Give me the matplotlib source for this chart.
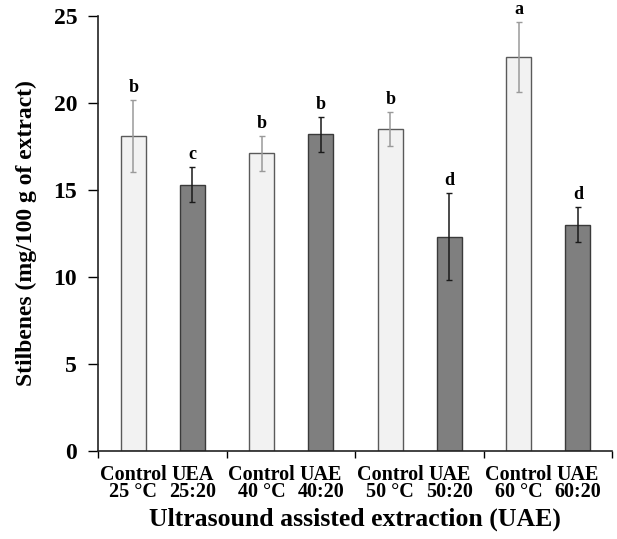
import matplotlib
matplotlib.use("Agg")
import matplotlib.pyplot as plt
import numpy as np

plt.rcParams['font.family'] = ['Liberation Serif', 'DejaVu Serif']
plt.rcParams['font.weight'] = 'bold'

labels = ["Control\n25 \u00b0C", "UEA\n25:20", "Control\n40 \u00b0C", "UAE\n40:20",
          "Control\n50 \u00b0C", "UAE\n50:20", "Control\n60 \u00b0C", "UAE\n60:20"]
values = [18.1, 15.3, 17.1, 18.2, 18.5, 12.3, 22.65, 13.0]
errors = [2.05, 1.0, 1.0, 1.0, 1.0, 2.5, 2.0, 1.0]
letters = ["b", "c", "b", "b", "b", "d", "a", "d"]
kind = ["control", "uae", "control", "uae", "control", "uae", "control", "uae"]

n_groups = 4
offsets = {"control": 0.275, "uae": 0.735}
positions = [i // 2 + offsets[k] for i, k in enumerate(kind)]

fig = plt.figure(figsize=(6.17, 5.39), dpi=100)
ax = fig.add_axes([98 / 617, 1 - 451 / 539, (612 - 98) / 617, (451 - 16) / 539])

for x, v, e, k, l in zip(positions, values, errors, kind, letters):
    if k == "control":
        fc, ec, errc = "#f2f2f2", "#5a5a5a", "#9a9a9a"
    else:
        fc, ec, errc = "#7f7f7f", "#3a3a3a", "#1a1a1a"
    ax.bar(x, v, width=0.195, color=fc, edgecolor=ec, linewidth=1.0, zorder=2)
    ax.errorbar(x, v, yerr=e, fmt="none", ecolor=errc, elinewidth=1.1,
                capsize=2, capthick=1.0, zorder=3)
    ax.annotate(l, (x, v + e), xytext=(0, 3), textcoords="offset points",
                ha="center", va="bottom", fontsize=13, fontweight="bold")

ax.set_xlim(0, n_groups)
ax.set_ylim(0, 25)
ax.set_yticks([0, 5, 10, 15, 20, 25])
ax.tick_params(axis="y", direction="out", length=7, width=1, labelsize=17, pad=8)

ax.set_xticks(np.arange(n_groups + 1))
ax.set_xticklabels([])
ax.tick_params(axis="x", which="major", direction="out", length=5, width=1)
ax.set_xticks(positions, minor=True)
ax.set_xticklabels(labels, minor=True, fontsize=14.5, fontweight="bold", linespacing=0.82)
ax.tick_params(axis="x", which="minor", length=0, pad=10)

for s in ["top", "right"]:
    ax.spines[s].set_visible(False)
for s in ["left", "bottom"]:
    ax.spines[s].set_linewidth(1.2)
    ax.spines[s].set_color("#222222")

ax.set_ylabel("Stilbenes (mg/100 g of extract)", fontsize=17, fontweight="bold", labelpad=12)
ax.set_xlabel("Ultrasound assisted extraction (UAE)", fontsize=18.5, fontweight="bold", labelpad=4)

fig.savefig("out.png", dpi=100)
